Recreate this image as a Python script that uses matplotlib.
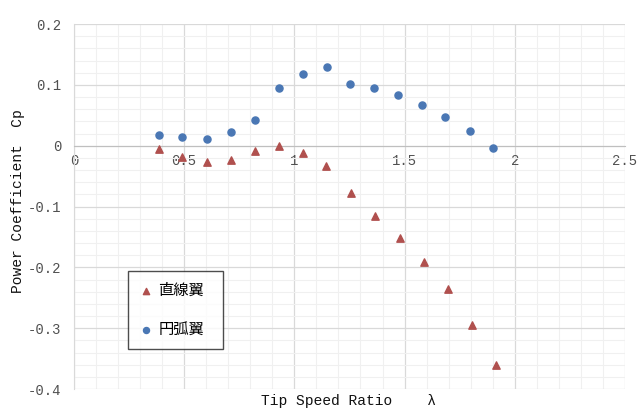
import matplotlib
matplotlib.use("Agg")
import matplotlib.pyplot as plt
from matplotlib.ticker import MultipleLocator

# tip speed ratio values
tsr_circ = [0.384, 0.492, 0.604, 0.712, 0.821, 0.930, 1.038, 1.150, 1.251,
            1.360, 1.469, 1.579, 1.685, 1.795, 1.902]
cp_circ = [0.017, 0.015, 0.0115, 0.023, 0.0425, 0.0945, 0.1175, 0.129, 0.1015,
           0.0955, 0.0835, 0.0665, 0.047, 0.0245, -0.0045]

tsr_line = [0.384, 0.492, 0.604, 0.712, 0.821, 0.930, 1.038, 1.145, 1.258,
            1.366, 1.478, 1.587, 1.695, 1.804, 1.914]
cp_line = [-0.006, -0.019, -0.027, -0.023, -0.009, -0.001, -0.012, -0.034, -0.077,
           -0.115, -0.151, -0.191, -0.236, -0.294, -0.360]

mono = "Liberation Mono"
cjk = ["Noto Sans CJK JP", "DejaVu Sans"]

fig = plt.figure(figsize=(6.39, 4.11), dpi=100)
ax = fig.add_axes([0.1158, 0.0535, 0.8622, 0.8881])

ax.scatter(tsr_line, cp_line, marker="^", s=28, color="#b0504e", label="直線翼", zorder=3)
ax.scatter(tsr_circ, cp_circ, marker="o", s=26, color="#4a77b4", label="円弧翼", zorder=3)

ax.set_xlim(0, 2.5)
ax.set_ylim(-0.4, 0.2)
ax.xaxis.set_major_locator(MultipleLocator(0.5))
ax.xaxis.set_minor_locator(MultipleLocator(0.1))
ax.yaxis.set_major_locator(MultipleLocator(0.1))
ax.yaxis.set_minor_locator(MultipleLocator(0.02))
ax.grid(which="major", color="#d9d9d9", lw=0.9)
ax.grid(which="minor", color="#f0f0f0", lw=0.8)
ax.set_axisbelow(True)

for s in ["top", "right"]:
    ax.spines[s].set_visible(False)
ax.spines["bottom"].set_position(("data", 0))
ax.spines["bottom"].set_color("#bfbfbf")
ax.spines["left"].set_color("#d9d9d9")
ax.tick_params(which="both", length=0)
ax.tick_params(axis="x", pad=6, labelsize=10, labelcolor="#505050")
ax.tick_params(axis="y", pad=9, labelsize=10, labelcolor="#505050")
ax.set_xticks([0, 0.5, 1, 1.5, 2, 2.5])
ax.set_xticklabels(["0", "0.5", "1", "1.5", "2", "2.5"])
ax.set_yticks([-0.4, -0.3, -0.2, -0.1, 0, 0.1, 0.2])
ax.set_yticklabels(["-0.4", "-0.3", "-0.2", "-0.1", "0", "0.1", "0.2"])
for lab in ax.get_xticklabels() + ax.get_yticklabels():
    lab.set_family(mono)

fig.text(0.545, 0.007, "Tip Speed Ratio    λ", family=mono, fontsize=10.5,
         ha="center", va="bottom", color="#111111")
fig.text(0.028, 0.51, "Power Coefficient  Cp", family=mono, fontsize=10.5,
         rotation=90, ha="center", va="center", color="#111111")

leg = ax.legend(loc="lower left", bbox_to_anchor=(0.098, 0.11, 0.172, 0.205),
                mode="expand", borderaxespad=0, prop={"family": cjk, "size": 11},
                frameon=True, fancybox=False, edgecolor="#202020",
                handletextpad=0.3, handlelength=1.0, labelspacing=1.45,
                borderpad=0.7, markerscale=0.85)
leg.get_frame().set_linewidth(1.0)

fig.savefig("out.png")
